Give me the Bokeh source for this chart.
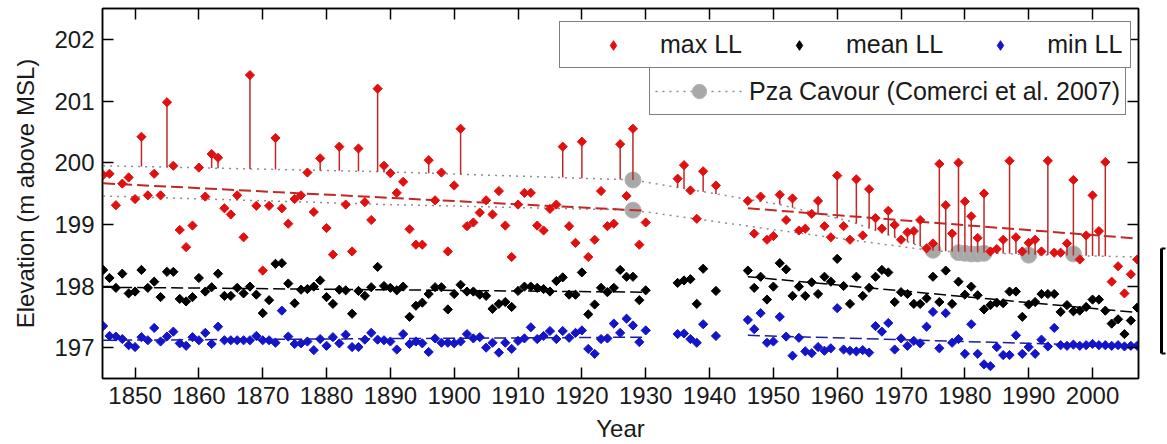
import numpy as np
from bokeh.plotting import figure
from bokeh.models import Range1d, LinearAxis, Legend, LegendItem, FixedTicker
from bokeh.embed import file_html
from bokeh.resources import INLINE

years = list(range(1845, 1931)) + [1935, 1936, 1937, 1938, 1939, 1941] + list(range(1946, 2008))

max_ll = [
    199.80, 199.82, 199.31, 199.66, 199.76, 199.41, 200.42, 199.47, 199.82, 199.47,
    200.98, 199.95, 198.91, 198.63, 198.98, 199.92, 199.45, 200.14, 200.08, 199.26,
    199.16, 199.47, 198.79, 201.42, 199.30, 198.25, 199.30, 200.40, 199.26, 199.01,
    199.41, 199.47, 199.84, 199.20, 200.07, 198.94, 198.51, 200.26, 199.32, 198.56,
    200.23, 199.36, 199.07, 201.20, 199.95, 199.83, 199.51, 199.69, 198.92, 198.67,
    198.67, 200.04, 199.39, 199.84, 198.56, 199.63, 200.55, 198.97, 199.03, 199.19,
    199.39, 199.16, 199.54, 198.98, 198.47, 199.32, 199.51, 199.51, 198.98, 198.90,
    199.25, 199.32, 200.26, 198.97, 198.70, 200.34, 198.47, 198.75, 199.54, 198.97,
    199.01, 200.30, 199.46, 200.55, 198.67, 199.03,
    199.74, 199.96, 199.55, 199.09, 199.86, 199.63,
    199.38, 198.85, 199.45, 198.75, 198.81, 199.48, 199.07, 199.42, 198.90, 198.93,
    199.17, 199.38, 198.97, 198.79, 199.79, 198.97, 198.75, 199.73, 198.82, 199.57,
    199.10, 198.93, 199.22, 198.99, 198.75, 198.87, 198.89, 199.07, 198.61, 198.69,
    199.98, 199.31, 198.85, 200.00, 199.37, 199.13, 198.78, 199.50, 198.56, 198.60,
    198.75, 200.03, 198.79, 198.56, 198.70, 198.75, 198.56, 200.03, 198.54, 198.54,
    198.69, 199.72, 198.43, 198.82, 199.47, 198.89, 200.01, 198.07, 198.32, 197.88,
    198.19, 198.43,
]

mean_ll = [
    198.26, 198.13, 197.97, 198.20, 197.88, 197.91, 198.26, 197.97, 198.07, 197.82,
    198.23, 198.23, 197.79, 197.75, 197.82, 198.13, 197.91, 197.98, 198.20, 197.84,
    197.84, 197.97, 197.88, 197.99, 197.86, 197.56, 197.77, 198.36, 198.37, 198.04,
    197.72, 197.94, 197.95, 197.99, 198.09, 197.82, 197.71, 197.94, 197.93, 197.55,
    197.92, 197.84, 197.98, 198.31, 198.00, 197.97, 197.93, 197.99, 197.50, 197.68,
    197.73, 197.87, 197.98, 197.98, 197.62, 197.87, 198.02, 197.91, 197.91, 197.86,
    197.84, 197.63, 197.71, 197.74, 197.66, 197.92, 197.99, 197.99, 197.97, 197.95,
    197.91, 198.08, 198.14, 197.86, 197.86, 198.22, 197.54, 197.70, 197.97, 197.90,
    197.97, 198.26, 198.15, 198.15, 197.77, 197.93,
    198.05, 198.09, 198.11, 197.71, 198.28, 197.92,
    198.25, 197.97, 198.15, 197.78, 197.99, 198.37, 198.27, 197.84, 197.99, 197.84,
    198.06, 197.87, 198.15, 198.07, 198.44, 198.00, 197.71, 198.15, 197.84, 197.97,
    198.15, 198.26, 198.22, 197.74, 197.90, 197.87, 197.71, 197.71, 197.80, 198.15,
    197.74, 198.25, 197.71, 198.07, 197.86, 197.99, 197.85, 197.62, 197.69, 197.73,
    197.72, 197.91, 197.91, 197.50, 197.70, 197.74, 197.87, 197.87, 197.87, 197.58,
    197.69, 197.59, 197.60, 197.66, 197.78, 197.78, 197.60, 197.39, 197.46, 197.22,
    197.44, 197.65,
]

min_ll = [
    197.35, 197.19, 197.18, 197.14, 197.04, 197.01, 197.17, 197.12, 197.32, 197.10,
    197.18, 197.26, 197.07, 197.03, 197.17, 197.12, 197.24, 197.06, 197.34, 197.12,
    197.12, 197.12, 197.12, 197.12, 197.19, 197.12, 197.12, 197.08, 197.60, 197.18,
    197.06, 197.07, 197.10, 196.96, 197.14, 197.03, 197.17, 197.07, 197.21, 197.01,
    197.01, 197.13, 197.24, 197.13, 197.12, 197.10, 196.97, 197.22, 197.06, 197.10,
    197.07, 196.93, 197.15, 197.08, 197.08, 197.07, 197.10, 197.22, 197.15, 197.17,
    197.00, 197.08, 196.92, 197.08, 196.98, 197.11, 197.15, 197.33, 197.14, 197.19,
    197.27, 197.14, 197.27, 197.16, 197.24, 197.28, 196.98, 196.90, 197.14, 197.15,
    197.39, 197.24, 197.47, 197.36, 197.09, 197.28,
    197.22, 197.23, 197.14, 197.08, 197.38, 197.19,
    197.45, 197.30, 197.56, 197.08, 197.10, 197.50, 197.18, 196.87, 197.16, 196.94,
    196.91, 197.01, 196.95, 196.99, 197.64, 196.97, 196.95, 196.94, 196.96, 196.92,
    197.35, 197.26, 197.40, 196.97, 197.15, 197.03, 197.11, 197.07, 197.34, 197.58,
    196.99, 197.56, 197.08, 197.14, 196.90, 197.38, 196.90, 196.73, 196.70, 197.01,
    196.88, 196.88, 197.20, 196.90, 197.01, 196.90, 197.13, 197.02, 197.32, 197.04,
    197.03, 197.05, 197.03, 197.04, 197.06, 197.04, 197.04, 197.03, 197.04, 197.02,
    197.03, 197.03,
]

# trend lines (two periods, gap marked by NaN)
trend_years = [1845, 1930, float("nan"), 1946, 2007]
max_trend = [199.665, 199.22, float("nan"), 199.26, 198.77]
mean_trend = [197.98, 197.90, float("nan"), 198.15, 197.57]
min_trend = [197.12, 197.17, float("nan"), 197.20, 197.02]

# Pza Cavour (Comerci et al. 2007)
cav_hi_years = [1845, 1890, 1928, 1951, 1962, 1975, 1990, 2007.2]
cav_hi_vals = [199.95, 199.85, 199.72, 199.32, 199.05, 198.57, 198.51, 198.47]
cav_lo_years = [1845, 1890, 1928, 1951, 1975]
cav_lo_vals = [199.46, 199.32, 199.23, 198.90, 198.57]
cav_pt_years = [1928, 1928, 1975, 1979, 1980, 1981, 1982, 1983, 1990, 1997]
cav_pt_vals = [199.72, 199.23, 198.58, 198.54, 198.53, 198.52, 198.52, 198.53, 198.50, 198.52]

x_ticks = [1850, 1860, 1870, 1880, 1890, 1900, 1910, 1920, 1930, 1940, 1950, 1960, 1970, 1980, 1990, 2000]
y_ticks = [197, 198, 199, 200, 201, 202]
# span of the bracket mark at the right edge of the figure
bracket_span = [196.90, 198.61]

FONT = "Liberation Sans"
RED = "#e01010"
RED_DARK = "#c02828"
BLUE = "#1414c8"
BLUE_DARK = "#1e1e96"
GRAY_LINE = "#8c8c8c"
GRAY_PT = "#a8a8a8"
TXT = "#1a1a1a"

p = figure(width=1167, height=444,
           x_range=Range1d(1844.9, 2007.2), y_range=Range1d(196.5, 202.5),
           output_backend="svg", toolbar_location=None,
           min_border_left=102, min_border_right=29, min_border_top=8, min_border_bottom=66)
p.xgrid.grid_line_color = None
p.ygrid.grid_line_color = None
p.outline_line_color = "black"
p.outline_line_width = 1.5
p.background_fill_color = "white"
p.border_fill_color = "white"

for ax in (p.xaxis[0], p.yaxis[0]):
    ax.major_tick_in = 11
    ax.major_tick_out = 0
    ax.minor_tick_line_color = None
    ax.axis_line_color = "black"
    ax.axis_line_width = 1.5
    ax.major_tick_line_width = 1.5
    ax.major_label_text_font = FONT
    ax.major_label_text_font_size = "24px"
    ax.major_label_text_color = TXT
    ax.axis_label_text_font = FONT
    ax.axis_label_text_font_size = "24px"
    ax.axis_label_text_font_style = "normal"
    ax.axis_label_text_color = TXT

p.xaxis[0].ticker = FixedTicker(ticks=x_ticks)
p.yaxis[0].ticker = FixedTicker(ticks=y_ticks)
p.xaxis[0].axis_label = "Year"
p.yaxis[0].axis_label = "Elevation (m above MSL)"
p.xaxis[0].major_label_standoff = 8
p.xaxis[0].axis_label_standoff = 8
p.yaxis[0].major_label_standoff = 8
p.yaxis[0].axis_label_standoff = 12

def quiet_axis(ax):
    ax.minor_tick_line_color = None
    ax.major_label_text_color = None
    ax.major_label_text_font_size = "1px"
    ax.major_label_standoff = 0
    ax.axis_label_standoff = 0

# mirrored inward ticks on top and right (no labels)
top = LinearAxis(ticker=FixedTicker(ticks=x_ticks))
right = LinearAxis(ticker=FixedTicker(ticks=y_ticks))
for ax in (top, right):
    quiet_axis(ax)
    ax.major_tick_in = 11
    ax.major_tick_out = 0
    ax.axis_line_color = "black"
    ax.axis_line_width = 1.5
    ax.major_tick_line_width = 1.5
p.add_layout(top, "above")
p.add_layout(right, "right")

# empty spacer between the frame and the bracket mark
spacer = LinearAxis(ticker=FixedTicker(ticks=y_ticks))
quiet_axis(spacer)
spacer.axis_line_color = None
spacer.major_tick_line_color = None
spacer.major_tick_in = 0
spacer.major_tick_out = 23
p.add_layout(spacer, "right")

# bracket mark beyond the right edge (an axis line limited to a span)
bracket = LinearAxis(ticker=FixedTicker(ticks=bracket_span), bounds=tuple(bracket_span))
quiet_axis(bracket)
bracket.axis_line_color = "black"
bracket.axis_line_width = 3
bracket.major_tick_in = 0
bracket.major_tick_out = 4
bracket.major_tick_line_width = 2
p.add_layout(bracket, "right")

yrs = np.array(years, dtype=float)
mx = np.array(max_ll)
ref = np.interp(yrs, cav_hi_years, cav_hi_vals)
above = mx > ref

# Pza Cavour dotted lines and points
r_cav_hi = p.line(cav_hi_years, cav_hi_vals, line_color=GRAY_LINE, line_width=1.5, line_dash="2 5")
p.line(cav_lo_years, cav_lo_vals, line_color=GRAY_LINE, line_width=1.5, line_dash="2 5")
r_cav_pt = p.scatter(cav_pt_years, cav_pt_vals, marker="circle", size=16,
                     fill_color=GRAY_PT, line_color="#b4b4b4", line_width=1)

# stems from Pza Cavour level up to max lake level
p.segment(x0=yrs[above], y0=ref[above], x1=yrs[above], y1=mx[above],
          line_color=RED_DARK, line_width=1.5)

# trends
p.line(trend_years, max_trend, line_color=RED_DARK, line_width=2, line_dash="12 5")
p.line(trend_years, mean_trend, line_color="black", line_width=1.5, line_dash="12 5")
p.line(trend_years, min_trend, line_color=BLUE_DARK, line_width=1.5, line_dash="12 5")

ang = np.pi / 4
p.scatter(years, max_ll, marker="square", angle=ang, size=6.5,
          fill_color=RED, line_color=RED, line_width=1)
p.scatter(years, mean_ll, marker="square", angle=ang, size=6.5,
          fill_color="black", line_color="black", line_width=1)
p.scatter(years, min_ll, marker="square", angle=ang, size=6.5,
          fill_color=BLUE, line_color=BLUE, line_width=1)

# legend proxies (no visible point, only used for the legend glyphs)
nan = [float("nan")]
lg_max = p.scatter(nan, nan, marker="diamond", fill_color=RED, line_color=RED)
lg_mean = p.scatter(nan, nan, marker="diamond", fill_color="black", line_color="black")
lg_min = p.scatter(nan, nan, marker="diamond", fill_color=BLUE, line_color=BLUE)

def style_legend(lg):
    lg.border_line_color = "black"
    lg.border_line_width = 1.5
    lg.background_fill_color = "white"
    lg.background_fill_alpha = 1.0
    lg.label_text_font = FONT
    lg.label_text_font_size = "25px"
    lg.label_text_color = TXT
    lg.margin = 0

leg1 = Legend(items=[LegendItem(label="max LL", renderers=[lg_max]),
                     LegendItem(label="mean LL", renderers=[lg_mean]),
                     LegendItem(label="min LL", renderers=[lg_min])],
              orientation="horizontal", location=(457, 310))
style_legend(leg1)
leg1.padding = 8
leg1.spacing = 12
leg1.glyph_width = 90
leg1.glyph_height = 24
leg1.label_standoff = 2

leg2 = Legend(items=[LegendItem(label="Pza Cavour (Comerci et al. 2007)", renderers=[r_cav_hi, r_cav_pt])],
              orientation="horizontal", location=(547, 263))
style_legend(leg2)
leg2.padding = 5
leg2.glyph_width = 88
leg2.glyph_height = 36
leg2.label_standoff = 6

p.add_layout(leg1, "center")
p.add_layout(leg2, "center")

open("out.html", "w").write(file_html(p, INLINE))
